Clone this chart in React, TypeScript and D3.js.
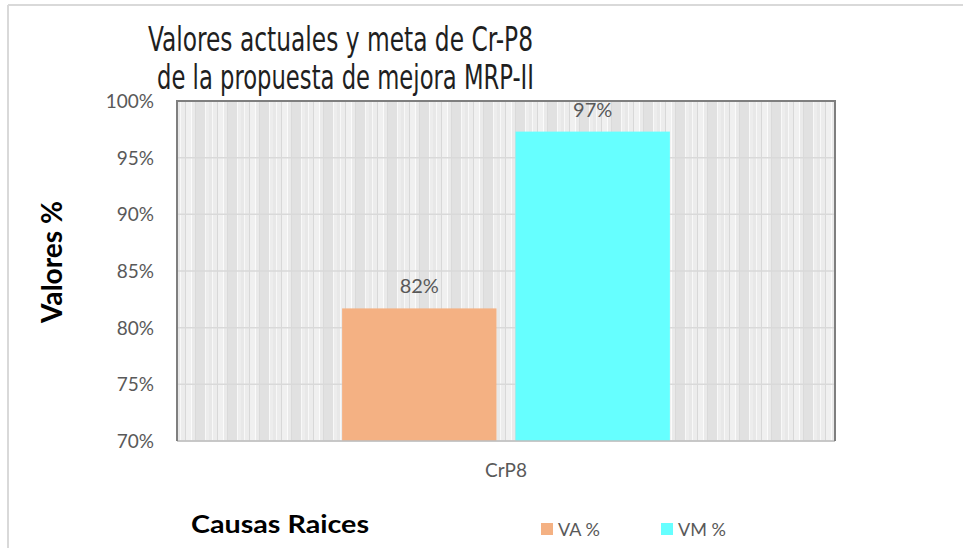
import React from 'react';
import * as d3 from 'd3';

const categories = ['CrP8'];
const seriesNames = ['VA %', 'VM %'];
const seriesValues = [0.817, 0.973];
const seriesColors = ['#F4B183', '#66FFFF'];
const yTicks = [0.7, 0.75, 0.8, 0.85, 0.9, 0.95, 1.0];
const titleLines = ['Valores actuales y meta de Cr-P8', 'de la propuesta de mejora MRP-II'];

const W = 963;
const H = 548;
const plot = { left: 177, right: 835, top: 101, bottom: 441 };

// vertical stripe texture used by the plot background
const stripes: [number, number, string][] = [
  [0, 3, '#e8e8e8'], [3, 1, '#f8f8f8'], [4, 4, '#ececec'], [8, 1, '#d8d8d8'],
  [9, 5, '#f0f0f0'], [14, 1, '#fbfbfb'], [15, 3, '#eaeaea'], [18, 1, '#dadada'],
  [19, 9, '#e1e1e1'], [28, 1, '#f8f8f8'], [29, 3, '#ededed'],
];

export default function App() {
  const y = d3.scaleLinear().domain([0.7, 1.0]).range([plot.bottom, plot.top]);
  const x = d3.scaleBand<string>().domain(categories).range([plot.left, plot.right]).padding(0.335);
  const xs = d3.scaleBand<string>().domain(seriesNames).range([0, x.bandwidth()]).paddingInner(0.11);
  const pct = d3.format('.0%');
  const gray = '#595959';
  const font = 'Lato, "Open Sans", sans-serif';

  return (
    <svg width={W} height={H} style={{ position: 'absolute', left: 0, top: 0, background: '#fff' }}>
      <defs>
        <pattern id="stripes" width={32} height={10} patternUnits="userSpaceOnUse" x={plot.left}>
          {stripes.map(([sx, sw, c], i) => (
            <rect key={i} x={sx} y={0} width={sw} height={10} fill={c} />
          ))}
        </pattern>
      </defs>

      {/* outer frame */}
      <line x1={8} x2={W} y1={5} y2={5} stroke="#d9d9d9" strokeWidth={2} />
      <line x1={8} x2={8} y1={5} y2={H} stroke="#d9d9d9" strokeWidth={2} />

      {/* title */}
      {titleLines.map((t, i) => (
        <text key={i} x={i === 0 ? 148 : 157} y={i === 0 ? 51 : 89} fontSize={33}
          fontFamily='"DejaVu Sans Condensed", "DejaVu Sans", sans-serif' fontStretch="condensed"
          fill="#1f1f1f" textLength={i === 0 ? 385 : 377} lengthAdjust="spacingAndGlyphs">{t}</text>
      ))}

      {/* plot background */}
      <rect x={plot.left} y={plot.top} width={plot.right - plot.left} height={plot.bottom - plot.top} fill="url(#stripes)" />
      {yTicks.map(t => (
        <line key={t} x1={plot.left} x2={plot.right} y1={y(t)} y2={y(t)} stroke="#d9d9d9" strokeWidth={1.5} />
      ))}

      {/* bars */}
      {categories.map(c => (
        <g key={c} transform={`translate(${x(c)},0)`}>
          {seriesNames.map((s, i) => (
            <g key={s}>
              <rect x={xs(s)} y={y(seriesValues[i])} width={xs.bandwidth()} height={plot.bottom - y(seriesValues[i])} fill={seriesColors[i]} />
              <text x={(xs(s) || 0) + xs.bandwidth() / 2} y={y(seriesValues[i]) - 15} textAnchor="middle"
                fontSize={20} fontFamily={font} fill={gray}>{pct(seriesValues[i])}</text>
            </g>
          ))}
        </g>
      ))}

      {/* plot border */}
      <line x1={plot.left} x2={plot.right} y1={plot.bottom} y2={plot.bottom} stroke="#bfbfbf" strokeWidth={1.5} />
      <path d={`M${plot.left},${plot.bottom}V${plot.top}H${plot.right}V${plot.bottom}`} fill="none" stroke="#7f7f7f" strokeWidth={2} />

      {/* y axis labels */}
      {yTicks.map(t => (
        <text key={t} x={154} y={y(t) + 7} textAnchor="end" fontSize={19} fontFamily={font} fill={gray}>{pct(t)}</text>
      ))}
      <text transform="translate(62,262) rotate(-90)" textAnchor="middle" fontSize={28} fontWeight="bold" fontFamily={font} fill="#000"
        textLength={122} lengthAdjust="spacingAndGlyphs">Valores %</text>

      {/* x axis label */}
      {categories.map(c => (
        <text key={c} x={(x(c) || 0) + x.bandwidth() / 2} y={477} textAnchor="middle" fontSize={19} fontFamily={font} fill={gray}>{c}</text>
      ))}
      <text x={191} y={533} fontSize={25} fontWeight="bold" fontFamily={font} fill="#000" textLength={178} lengthAdjust="spacingAndGlyphs">Causas Raices</text>

      {/* legend */}
      {seriesNames.map((s, i) => (
        <g key={s} transform={`translate(${541 + i * 120},523)`}>
          <rect x={0} y={0} width={12} height={12} fill={seriesColors[i]} />
          <text x={17} y={13} fontSize={18} fontFamily={font} fill={gray}>{s}</text>
        </g>
      ))}
    </svg>
  );
}
